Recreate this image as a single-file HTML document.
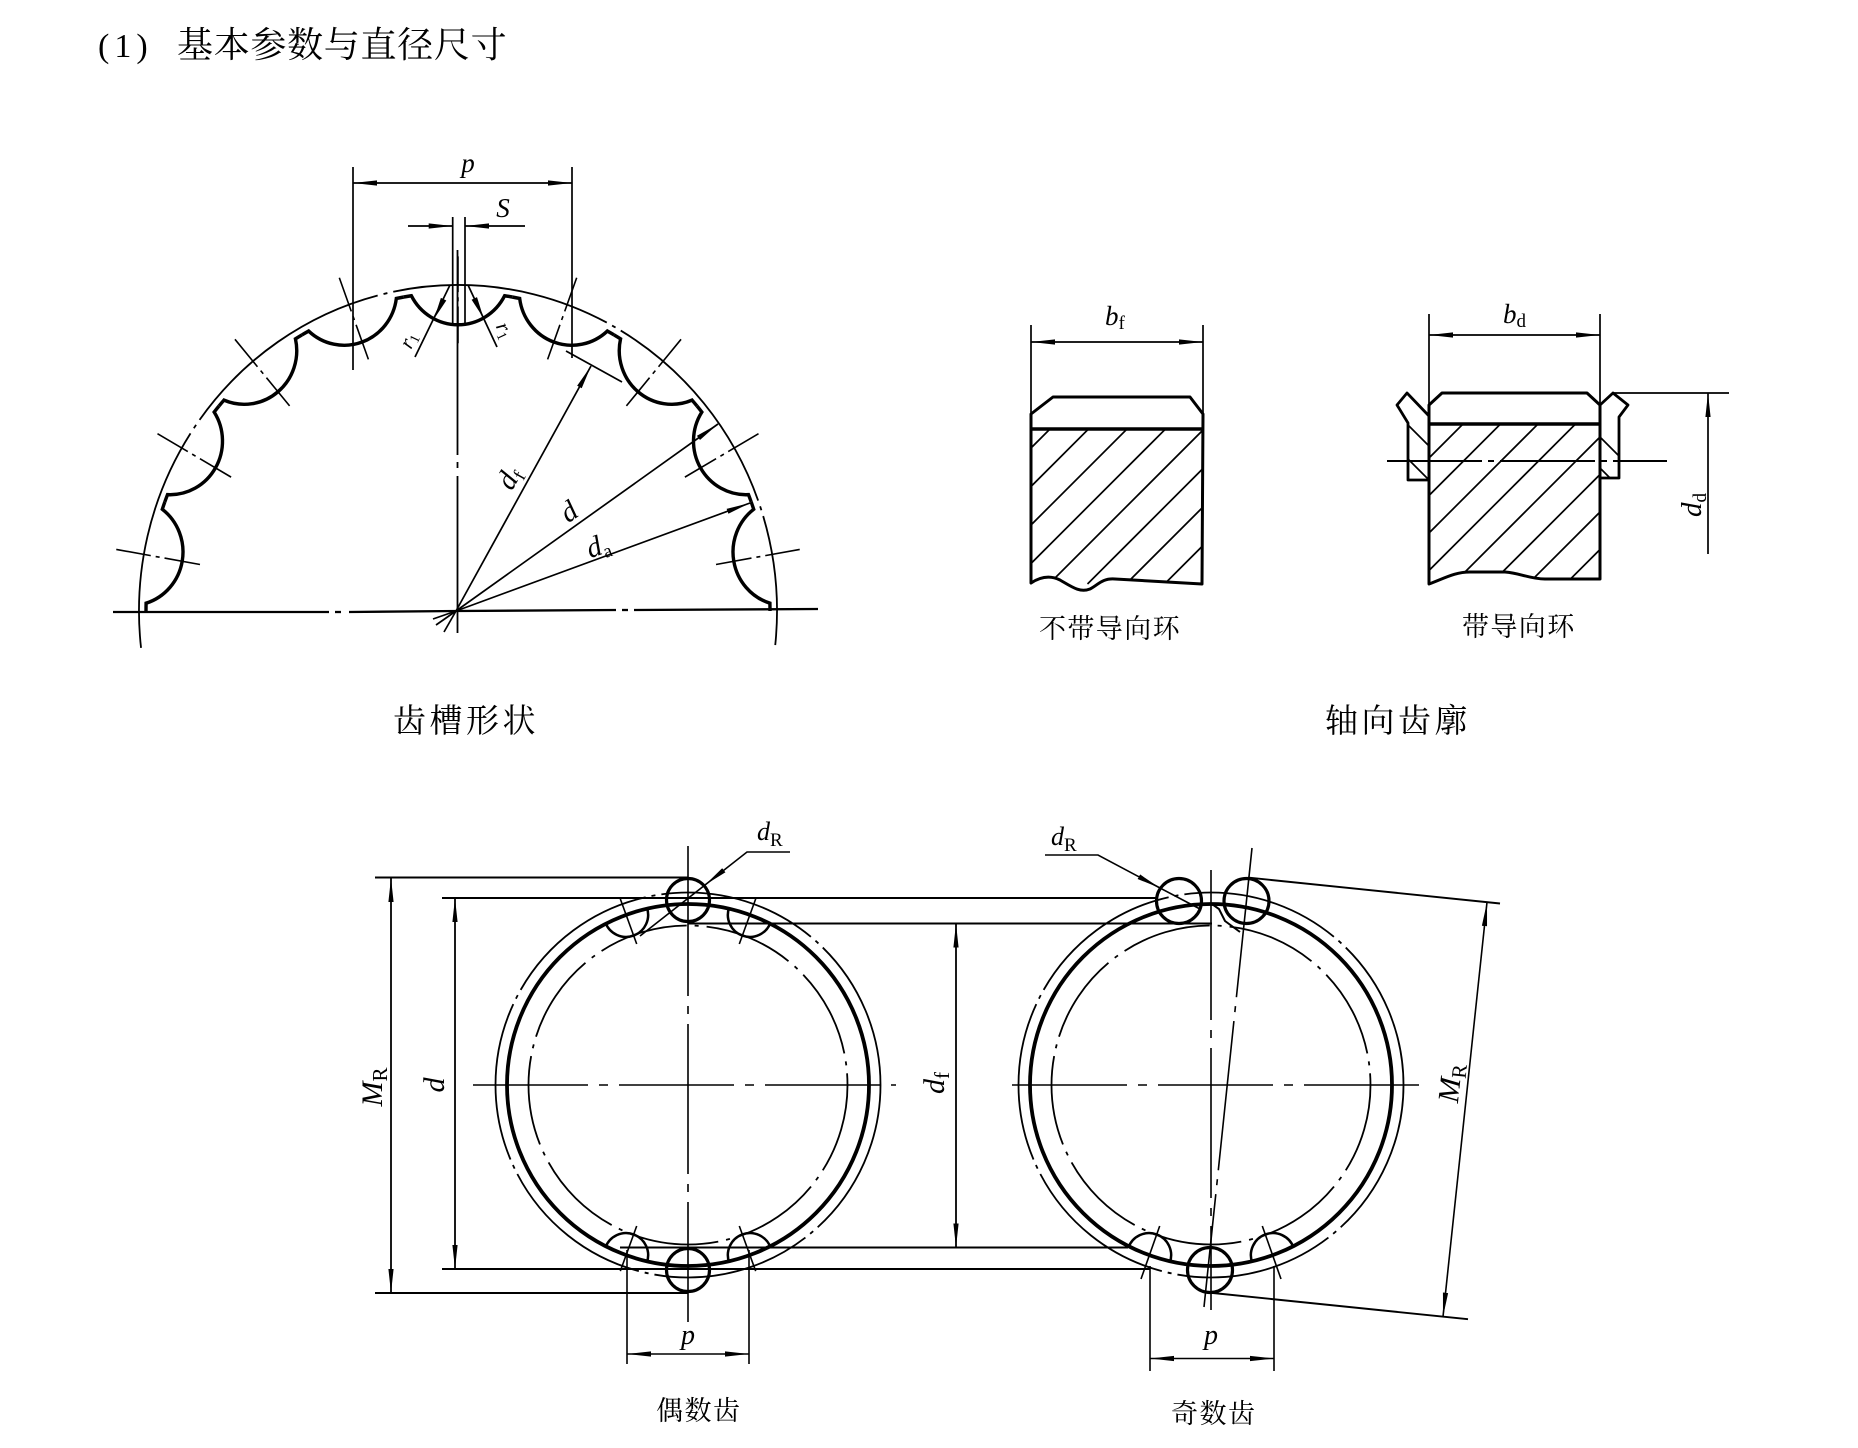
<!DOCTYPE html>
<html><head><meta charset="utf-8"><style>
html,body{margin:0;padding:0;background:#fff}
svg{display:block}
.i{font-family:"Liberation Serif",serif;font-style:italic}
.n{font-style:normal}
.c{font-family:"Liberation Serif","Noto Serif CJK SC",serif}
</style></head><body>
<svg width="1858" height="1448" viewBox="0 0 1858 1448" xmlns="http://www.w3.org/2000/svg">
<defs>
<marker id="a" viewBox="0 0 24 6" refX="24" refY="3" markerWidth="24" markerHeight="6" markerUnits="userSpaceOnUse" orient="auto-start-reverse"><path d="M0,0.4 L24,3 L0,5.6 z" fill="#000"/></marker>
<clipPath id="cl1"><path d="M1031 429 L1202 429 L1202 584 L1115 579 C1102 578 1098 585 1090 589 C1080 593 1072 587 1060 580 C1050 575 1040 577 1031 583 Z"/></clipPath>
<clipPath id="cl2"><path d="M1429 424 L1600 424 L1600 579 L1545 579 C1530 579 1520 573 1505 572 L1470 572 C1455 572 1445 578 1429 584 Z"/></clipPath>
</defs>
<rect width="1858" height="1448" fill="#fff"/>

<!-- Title -->
<text x="98" y="57" font-family="Liberation Serif" font-size="34" letter-spacing="5">(1)</text>
<text x="177" y="57" class="c" font-size="36" letter-spacing="0.7">基本参数与直径尺寸</text>

<!-- ================= GEAR ================= -->
<g transform="translate(458 611) scale(1 1.022)" fill="none" stroke="#000">
 <path id="g" stroke-width="3.4" d="M-54.18 -307.26 A312 312 0 0 1 -46.66 -308.49 A52.5 52.5 0 0 0 46.66 -308.49 A312 312 0 0 1 54.18 -307.26"/>
 <use href="#g" transform="rotate(20)"/>
 <use href="#g" transform="rotate(40)"/>
 <use href="#g" transform="rotate(60)"/>
 <use href="#g" transform="rotate(80)"/>
 <use href="#g" transform="rotate(-20)"/>
 <use href="#g" transform="rotate(-40)"/>
 <use href="#g" transform="rotate(-60)"/>
 <use href="#g" transform="rotate(-80)"/>
 <path stroke-width="1.8" stroke-dasharray="220 6 4 6" d="M-316.95 36.1 A319 319 0 1 1 317.25 33.35"/>
 <line id="tk" x1="0" y1="-262" x2="0" y2="-347" stroke-width="1.6" stroke-dasharray="36 5 4 5"/>
 <use href="#tk" transform="rotate(20)"/>
 <use href="#tk" transform="rotate(40)"/>
 <use href="#tk" transform="rotate(60)"/>
 <use href="#tk" transform="rotate(80)"/>
 <use href="#tk" transform="rotate(-20)"/>
 <use href="#tk" transform="rotate(-40)"/>
 <use href="#tk" transform="rotate(-60)"/>
 <use href="#tk" transform="rotate(-80)"/>
</g>
<g stroke="#000" fill="none">
 <g stroke-width="2.3">
  <line x1="113" y1="612" x2="329" y2="612"/><line x1="335" y1="612" x2="341" y2="612"/><line x1="349" y1="612" x2="457" y2="611"/>
  <line x1="457" y1="611" x2="616" y2="610"/><line x1="622" y1="610" x2="628" y2="610"/><line x1="634" y1="610" x2="818" y2="609"/>
 </g>
 <g stroke-width="1.8">
  <line x1="457.5" y1="250" x2="457.5" y2="455"/><line x1="457.5" y1="462" x2="457.5" y2="468"/><line x1="457.5" y1="476" x2="457.5" y2="633"/>
 </g>
 <g stroke-width="1.7">
  <line x1="353" y1="167" x2="353" y2="370"/>
  <line x1="572" y1="167" x2="572" y2="358"/>
  <line x1="353" y1="183" x2="572" y2="183" marker-start="url(#a)" marker-end="url(#a)"/>
  <line x1="452.7" y1="217" x2="452.7" y2="325"/>
  <line x1="465" y1="217" x2="465" y2="325"/>
  <line x1="408" y1="226" x2="452.7" y2="226" marker-end="url(#a)"/>
  <line x1="525" y1="226" x2="465" y2="226" marker-end="url(#a)"/>
  <line x1="450" y1="285" x2="415" y2="357"/>
  <line x1="468" y1="285" x2="497" y2="347"/>
  <line x1="456" y1="611" x2="591" y2="366" marker-end="url(#a)"/>
  <line x1="456" y1="611" x2="718" y2="424" marker-end="url(#a)"/>
  <line x1="456" y1="611" x2="750" y2="503" marker-end="url(#a)"/>
  <line x1="456" y1="611" x2="444" y2="632"/>
  <line x1="456" y1="611" x2="436" y2="625"/>
  <line x1="456" y1="611" x2="433" y2="619"/>
  <line x1="566" y1="351" x2="622" y2="382"/>
 </g>
 <polygon points="434,319 446.3,300.5 440.9,297.9" fill="#000" stroke="none"/>
 <polygon points="483.6,318.3 477,297.1 471.6,299.7" fill="#000" stroke="none"/>
</g>
<text class="i" x="468" y="172" font-size="27" text-anchor="middle">p</text>
<text class="i" x="503" y="217" font-size="27" text-anchor="middle">S</text>
<text class="i" transform="translate(408 340) rotate(-64)" y="7" font-size="21" text-anchor="middle">r<tspan class="n" font-size="14" dy="3">1</tspan></text>
<text class="i" transform="translate(505 330) rotate(65)" y="7" font-size="21" text-anchor="middle">r<tspan class="n" font-size="14" dy="3">1</tspan></text>
<text class="i" transform="translate(509 478) rotate(-60.7)" y="9" font-size="29" text-anchor="middle">d<tspan class="n" font-size="19" dy="5">f</tspan></text>
<text class="i" transform="translate(569 512) rotate(-35.2)" y="9" font-size="29" text-anchor="middle">d</text>
<text class="i" transform="translate(598 546) rotate(-19.9)" y="9" font-size="29" text-anchor="middle">d<tspan class="n" font-size="19" dy="5">a</tspan></text>
<text x="393" y="732" class="c" font-size="33" letter-spacing="3.5">齿槽形状</text>

<!-- ================= AXIAL PROFILES ================= -->
<g stroke="#000" fill="none">
 <line x1="1031" y1="325" x2="1031" y2="414" stroke-width="1.7"/>
 <line x1="1203" y1="325" x2="1203" y2="414" stroke-width="1.7"/>
 <line x1="1031" y1="342" x2="1203" y2="342" stroke-width="1.7" marker-start="url(#a)" marker-end="url(#a)"/>
 <g clip-path="url(#cl1)" stroke-width="1.7">
  <line x1="895" y1="584" x2="1050" y2="429"/>
  <line x1="933.5" y1="584" x2="1088.5" y2="429"/>
  <line x1="972" y1="584" x2="1127" y2="429"/>
  <line x1="1010.5" y1="584" x2="1165.5" y2="429"/>
  <line x1="1049" y1="584" x2="1204" y2="429"/>
  <line x1="1087.5" y1="584" x2="1242.5" y2="429"/>
  <line x1="1126" y1="584" x2="1281" y2="429"/>
  <line x1="1164.5" y1="584" x2="1319.5" y2="429"/>
 </g>
 <path stroke-width="3" stroke-linejoin="round" d="M1031 583 L1031 414 L1053 397 L1190 397 L1203 414 L1202 584 L1115 579 C1102 578 1098 585 1090 589 C1080 593 1072 587 1060 580 C1050 575 1040 577 1031 583 Z"/>
 <line x1="1031" y1="429" x2="1203" y2="429" stroke-width="3.4"/>

 <line x1="1429" y1="314" x2="1429" y2="405" stroke-width="1.7"/>
 <line x1="1600" y1="314" x2="1600" y2="405" stroke-width="1.7"/>
 <line x1="1429" y1="335" x2="1600" y2="335" stroke-width="1.7" marker-start="url(#a)" marker-end="url(#a)"/>
 <g clip-path="url(#cl2)" stroke-width="1.7">
  <line x1="1303" y1="584" x2="1463" y2="424"/>
  <line x1="1340.5" y1="584" x2="1500.5" y2="424"/>
  <line x1="1378" y1="584" x2="1538" y2="424"/>
  <line x1="1415.5" y1="584" x2="1575.5" y2="424"/>
  <line x1="1453" y1="584" x2="1613" y2="424"/>
  <line x1="1490.5" y1="584" x2="1650.5" y2="424"/>
  <line x1="1528" y1="584" x2="1688" y2="424"/>
  <line x1="1565.5" y1="584" x2="1725.5" y2="424"/>
 </g>
 <path stroke-width="3" stroke-linejoin="round" d="M1429 584 L1429 405 L1442 393 L1587 393 L1600 405 L1600 579 L1545 579 C1530 579 1520 573 1505 572 L1470 572 C1455 572 1445 578 1429 584 Z"/>
 <line x1="1429" y1="424" x2="1600" y2="424" stroke-width="3.4"/>
 <polyline stroke-width="2.8" stroke-linejoin="round" points="1429,480 1408,480 1408,423 1397,405 1407,393 1429,416"/>
 <polyline stroke-width="2.8" stroke-linejoin="round" points="1600,478 1619,478 1619,417 1628,405 1613,393 1600,405"/>
 <g stroke-width="1.7">
  <line x1="1408" y1="425" x2="1429" y2="446"/>
  <line x1="1408" y1="459" x2="1429" y2="480"/>
  <line x1="1600" y1="437" x2="1619" y2="456"/>
  <line x1="1600" y1="468" x2="1610" y2="478"/>
 </g>
 <line x1="1387" y1="461" x2="1667" y2="461" stroke-width="2" stroke-dasharray="95 6 6 6"/>
 <line x1="1613" y1="393" x2="1729" y2="393" stroke-width="1.7"/>
 <line x1="1708" y1="393" x2="1708" y2="554" stroke-width="1.7" marker-start="url(#a)"/>
</g>
<text class="i" x="1105" y="325" font-size="27">b<tspan class="n" font-size="19" dy="4">f</tspan></text>
<text class="i" x="1503" y="323" font-size="27">b<tspan class="n" font-size="19" dy="4">d</tspan></text>
<text class="i" transform="translate(1692 505) rotate(-90)" y="9" font-size="29" text-anchor="middle">d<tspan class="n" font-size="19" dy="5">d</tspan></text>
<text x="1039" y="638" class="c" font-size="27" letter-spacing="1.4">不带导向环</text>
<text x="1462" y="636" class="c" font-size="27" letter-spacing="1.4">带导向环</text>
<text x="1325" y="732" class="c" font-size="33" letter-spacing="3.5">轴向齿廓</text>

<!-- ================= RINGS ================= -->
<g stroke="#000" fill="none">
 <g stroke-width="2">
  <line x1="375" y1="877.5" x2="688" y2="877.5"/>
  <line x1="375" y1="1293" x2="688" y2="1293"/>
  <line x1="442" y1="898" x2="1157" y2="898"/>
  <line x1="442" y1="1269" x2="1150" y2="1269"/>
  <line x1="688" y1="923.5" x2="1212" y2="923.5"/>
  <line x1="620" y1="1247.5" x2="1128" y2="1247.5"/>
 </g>
 <g stroke-width="1.8">
  <line x1="391" y1="878" x2="391" y2="1293" marker-start="url(#a)" marker-end="url(#a)"/>
  <line x1="455" y1="898" x2="455" y2="1269" marker-start="url(#a)" marker-end="url(#a)"/>
  <line x1="956" y1="923.5" x2="956" y2="1247.5" marker-start="url(#a)" marker-end="url(#a)"/>
 </g>

 <circle cx="688" cy="1085" r="192.5" stroke-width="1.8" stroke-dasharray="160 6 4 6"/>
 <circle cx="688" cy="1085" r="181" stroke-width="3.8"/>
 <circle cx="688" cy="1085" r="159.5" stroke-width="1.8" stroke-dasharray="90 8 4 8"/>
 <circle cx="688" cy="900" r="21.5" stroke-width="3.2"/>
 <circle cx="688" cy="1270" r="21.5" stroke-width="3.2"/>
 <g stroke-width="2.5">
  <path d="M605.4 922.4 A22 22 0 0 0 646.8 907.4"/>
  <path d="M729.2 907.4 A22 22 0 0 0 770.6 922.4"/>
  <path d="M605.4 1247.6 A22 22 0 0 1 646.8 1262.6"/>
  <path d="M729.2 1262.6 A22 22 0 0 1 770.6 1247.6"/>
 </g>
 <g stroke-width="1.6">
  <line x1="620.3" y1="898.9" x2="636.7" y2="944"/>
  <line x1="755.7" y1="898.9" x2="739.3" y2="944"/>
  <line x1="636.7" y1="1226" x2="620.3" y2="1271.1"/>
  <line x1="739.3" y1="1226" x2="755.7" y2="1271.1"/>
  <line x1="688" y1="846" x2="688" y2="1322" stroke-dasharray="150 10 8 10"/>
  <line x1="473" y1="1085" x2="896" y2="1085" stroke-dasharray="115 11 9 11"/>
  <line x1="627" y1="1250" x2="627" y2="1364"/>
  <line x1="749" y1="1250" x2="749" y2="1364"/>
  <line x1="627" y1="1354" x2="749" y2="1354" marker-start="url(#a)" marker-end="url(#a)"/>
  <polyline points="790,852 747,852 705,885" marker-end="url(#a)"/>
  <line x1="705" y1="885" x2="640" y2="936"/>
 </g>

 <circle cx="1211" cy="1085" r="192.5" stroke-width="1.8" stroke-dasharray="160 6 4 6"/>
 <circle cx="1211" cy="1085" r="181" stroke-width="3.8"/>
 <circle cx="1211" cy="1085" r="159.5" stroke-width="1.8" stroke-dasharray="90 8 4 8"/>
 <circle cx="1179" cy="901" r="22.5" stroke-width="3.2"/>
 <circle cx="1246.5" cy="901" r="22.5" stroke-width="3.2"/>
 <circle cx="1210" cy="1270" r="22.5" stroke-width="3.2"/>
 <g stroke-width="2.5">
  <path d="M1128.4 1247.6 A22 22 0 0 1 1169.8 1262.6"/>
  <path d="M1252.2 1262.6 A22 22 0 0 1 1293.6 1247.6"/>
  <polyline points="1200,905 1212,904 1219,909 1225,921 1240,932" stroke-width="2"/>
 </g>
 <g stroke-width="1.6">
  <line x1="1159.7" y1="1226" x2="1141" y2="1279"/>
  <line x1="1262.3" y1="1226" x2="1281" y2="1279"/>
  <line x1="1211" y1="870" x2="1211" y2="1310" stroke-dasharray="150 10 8 10"/>
  <line x1="1012" y1="1085" x2="1420" y2="1085" stroke-dasharray="115 11 9 11"/>
  <line x1="1252" y1="848" x2="1204" y2="1307" stroke-dasharray="150 9 6 9"/>
  <line x1="1150" y1="1266" x2="1150" y2="1371"/>
  <line x1="1274" y1="1266" x2="1274" y2="1371"/>
  <line x1="1150" y1="1358.5" x2="1274" y2="1358.5" marker-start="url(#a)" marker-end="url(#a)"/>
  <polyline points="1045,855 1098,855 1160,888" marker-end="url(#a)"/>
  <line x1="1160" y1="888" x2="1200" y2="909"/>
  <line x1="1248" y1="877.6" x2="1500" y2="903.5" stroke-width="1.9"/>
  <line x1="1208" y1="1292.5" x2="1468" y2="1319.2" stroke-width="1.9"/>
  <line x1="1487" y1="902.2" x2="1443" y2="1316.7" marker-start="url(#a)" marker-end="url(#a)"/>
 </g>
</g>
<text class="i" x="757" y="840" font-size="26">d<tspan class="n" font-size="19" dy="6">R</tspan></text>
<text class="i" x="1051" y="845" font-size="26">d<tspan class="n" font-size="19" dy="6">R</tspan></text>
<text class="i" transform="translate(372 1087) rotate(-90)" y="10" font-size="30" text-anchor="middle">M<tspan class="n" font-size="21" dy="5">R</tspan></text>
<text class="i" transform="translate(434 1085) rotate(-90)" y="10" font-size="30" text-anchor="middle">d</text>
<text class="i" transform="translate(934 1083) rotate(-90)" y="10" font-size="30" text-anchor="middle">d<tspan class="n" font-size="21" dy="5">f</tspan></text>
<text class="i" transform="translate(1450 1083) rotate(-84)" y="10" font-size="30" text-anchor="middle">M<tspan class="n" font-size="21" dy="5">R</tspan></text>
<text class="i" x="688" y="1344" font-size="28" text-anchor="middle">p</text>
<text class="i" x="1211" y="1344" font-size="28" text-anchor="middle">p</text>
<text x="656" y="1420" class="c" font-size="27" letter-spacing="1.5">偶数齿</text>
<text x="1171" y="1423" class="c" font-size="27" letter-spacing="1.5">奇数齿</text>
</svg>
</body></html>
